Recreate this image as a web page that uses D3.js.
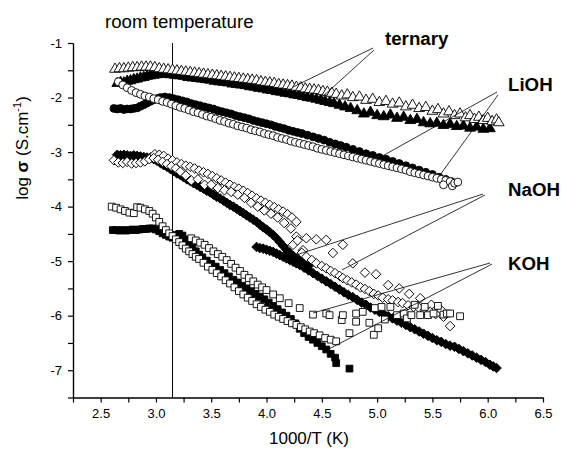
<!DOCTYPE html>
<html>
<head>
<meta charset="utf-8">
<script src="https://cdn.jsdelivr.net/npm/d3@7"></script>
<style>
  body { margin: 0; background: #fff; }
  svg { font-family: 'Liberation Sans', Arial, sans-serif; }
</style>
</head>
<body>
<div id="chart"></div>
<script>
// x = 1000/T (K), y = log sigma
const ternaryFilled = [
  [2.65, -1.74], [2.68, -1.72], [2.71, -1.73], [2.74, -1.7], [2.77, -1.69], [2.8, -1.67], [2.83, -1.66],
  [2.86, -1.64], [2.89, -1.63], [2.92, -1.61], [2.95, -1.6], [2.98, -1.59], [3.01, -1.58], [3.05, -1.57],
  [3.09, -1.57], [3.13, -1.58], [3.17, -1.59], [3.21, -1.6], [3.25, -1.61], [3.29, -1.63], [3.33, -1.64],
  [3.37, -1.65], [3.41, -1.66], [3.45, -1.67], [3.49, -1.68], [3.53, -1.7], [3.57, -1.71], [3.61, -1.72],
  [3.65, -1.73], [3.69, -1.75], [3.73, -1.76], [3.77, -1.77], [3.81, -1.78], [3.85, -1.8], [3.89, -1.81],
  [3.93, -1.83], [3.97, -1.84], [4.01, -1.86], [4.05, -1.87], [4.09, -1.89], [4.13, -1.9], [4.17, -1.92],
  [4.21, -1.93], [4.25, -1.95], [4.29, -1.96], [4.33, -1.98], [4.37, -2.0], [4.41, -2.01], [4.45, -2.03],
  [4.49, -2.05], [4.53, -2.07], [4.57, -2.09], [4.61, -2.11], [4.66, -2.14], [4.71, -2.17], [4.76, -2.2],
  [4.82, -2.24], [4.88, -2.3], [4.94, -2.27], [5.0, -2.33], [5.06, -2.35], [5.12, -2.32], [5.18, -2.38],
  [5.24, -2.36], [5.3, -2.42], [5.36, -2.4], [5.42, -2.46], [5.48, -2.48], [5.54, -2.47], [5.6, -2.51],
  [5.66, -2.49], [5.72, -2.53], [5.78, -2.52], [5.84, -2.56], [5.9, -2.54], [5.96, -2.58], [6.02, -2.57],
];
const ternaryOpen = [
  [2.63, -1.48], [2.67, -1.47], [2.71, -1.47], [2.75, -1.46], [2.79, -1.45], [2.83, -1.45], [2.87, -1.44],
  [2.91, -1.44], [2.95, -1.44], [2.99, -1.45], [3.03, -1.47], [3.07, -1.48], [3.11, -1.49], [3.15, -1.5],
  [3.19, -1.51], [3.23, -1.52], [3.27, -1.53], [3.31, -1.54], [3.35, -1.55], [3.39, -1.56], [3.43, -1.57],
  [3.47, -1.58], [3.51, -1.59], [3.55, -1.6], [3.59, -1.61], [3.63, -1.62], [3.67, -1.63], [3.71, -1.64],
  [3.75, -1.65], [3.79, -1.66], [3.83, -1.67], [3.87, -1.68], [3.91, -1.69], [3.95, -1.71], [3.99, -1.72],
  [4.03, -1.73], [4.07, -1.74], [4.11, -1.76], [4.15, -1.77], [4.19, -1.78], [4.23, -1.79], [4.27, -1.81],
  [4.31, -1.82], [4.35, -1.84], [4.39, -1.85], [4.43, -1.86], [4.47, -1.87], [4.51, -1.89], [4.55, -1.9],
  [4.59, -1.92], [4.63, -1.94], [4.68, -1.97], [4.73, -1.95], [4.78, -2.0], [4.84, -1.99], [4.9, -2.05],
  [4.96, -2.03], [5.02, -2.09], [5.08, -2.07], [5.14, -2.12], [5.2, -2.1], [5.26, -2.17], [5.32, -2.14],
  [5.38, -2.2], [5.44, -2.18], [5.5, -2.25], [5.55, -2.22], [5.6, -2.3], [5.65, -2.26], [5.7, -2.33],
  [5.75, -2.3], [5.8, -2.37], [5.84, -2.33], [5.88, -2.4], [5.92, -2.36], [5.96, -2.42], [6.0, -2.38],
  [6.04, -2.44], [6.08, -2.41], [6.1, -2.46],
];
const liohFilled = [
  [2.62, -2.2], [2.65, -2.21], [2.68, -2.2], [2.71, -2.22], [2.74, -2.21], [2.77, -2.21], [2.8, -2.2],
  [2.83, -2.19], [2.86, -2.16], [2.89, -2.13], [2.92, -2.1], [2.95, -2.07], [2.98, -2.04], [3.01, -2.02],
  [3.04, -2.0], [3.08, -1.99], [3.12, -2.0], [3.16, -2.02], [3.2, -2.04], [3.24, -2.06], [3.28, -2.08],
  [3.32, -2.11], [3.36, -2.13], [3.4, -2.15], [3.44, -2.17], [3.48, -2.19], [3.52, -2.21], [3.56, -2.24],
  [3.6, -2.26], [3.64, -2.28], [3.68, -2.3], [3.72, -2.33], [3.76, -2.35], [3.8, -2.37], [3.84, -2.39],
  [3.88, -2.42], [3.92, -2.44], [3.96, -2.46], [4.0, -2.48], [4.04, -2.5], [4.08, -2.53], [4.12, -2.55],
  [4.16, -2.57], [4.2, -2.6], [4.24, -2.62], [4.28, -2.64], [4.32, -2.66], [4.37, -2.69], [4.42, -2.72],
  [4.47, -2.75], [4.52, -2.78], [4.57, -2.82], [4.62, -2.85], [4.67, -2.88], [4.72, -2.91], [4.78, -2.95],
  [4.84, -2.99], [4.9, -3.03], [4.96, -3.06], [5.02, -3.1], [5.08, -3.13], [5.14, -3.17], [5.2, -3.21],
  [5.26, -3.25], [5.32, -3.29], [5.38, -3.33], [5.44, -3.37], [5.5, -3.41], [5.56, -3.46], [5.62, -3.5],
  [5.67, -3.54],
];
const liohOpen = [
  [2.66, -1.71], [2.7, -1.77], [2.74, -1.82], [2.78, -1.87], [2.82, -1.91], [2.86, -1.94], [2.9, -1.97],
  [2.94, -1.99], [2.98, -2.02], [3.02, -2.04], [3.06, -2.07], [3.1, -2.09], [3.14, -2.12], [3.18, -2.15],
  [3.22, -2.18], [3.26, -2.2], [3.3, -2.23], [3.34, -2.26], [3.38, -2.28], [3.42, -2.31], [3.46, -2.34],
  [3.5, -2.36], [3.54, -2.39], [3.58, -2.42], [3.62, -2.44], [3.66, -2.47], [3.7, -2.49], [3.74, -2.52],
  [3.78, -2.54], [3.82, -2.56], [3.86, -2.59], [3.9, -2.61], [3.94, -2.63], [3.98, -2.66], [4.02, -2.68],
  [4.06, -2.7], [4.1, -2.73], [4.14, -2.75], [4.18, -2.77], [4.22, -2.8], [4.26, -2.82], [4.3, -2.84],
  [4.34, -2.86], [4.38, -2.88], [4.42, -2.9], [4.46, -2.93], [4.5, -2.95], [4.54, -2.97], [4.58, -2.99],
  [4.62, -3.01], [4.66, -3.03], [4.7, -3.05], [4.74, -3.07], [4.78, -3.09], [4.82, -3.11], [4.86, -3.13],
  [4.9, -3.15], [4.94, -3.17], [4.98, -3.19], [5.02, -3.21], [5.06, -3.23], [5.1, -3.25], [5.14, -3.27],
  [5.18, -3.29], [5.22, -3.31], [5.26, -3.33], [5.3, -3.36], [5.34, -3.38], [5.38, -3.4], [5.42, -3.42],
  [5.46, -3.44], [5.5, -3.46], [5.54, -3.48], [5.58, -3.5], [5.62, -3.52], [5.6, -3.6], [5.66, -3.54],
  [5.68, -3.62], [5.7, -3.57], [5.73, -3.55],
];
const naohFilledA = [
  [2.65, -3.05], [2.68, -3.06], [2.71, -3.05], [2.74, -3.06], [2.77, -3.07], [2.8, -3.06], [2.83, -3.07],
  [2.86, -3.08], [2.89, -3.09], [2.92, -3.1], [2.95, -3.11], [2.98, -3.13], [3.01, -3.16], [3.04, -3.2],
  [3.07, -3.24], [3.1, -3.27], [3.13, -3.31], [3.16, -3.35], [3.19, -3.39], [3.22, -3.42], [3.25, -3.46],
  [3.28, -3.5], [3.31, -3.53], [3.34, -3.57], [3.37, -3.6], [3.4, -3.64], [3.43, -3.67], [3.46, -3.71],
  [3.49, -3.74], [3.52, -3.78], [3.55, -3.82], [3.58, -3.85], [3.61, -3.89], [3.64, -3.93], [3.67, -3.97],
  [3.7, -4.0], [3.73, -4.04], [3.76, -4.08], [3.79, -4.12], [3.82, -4.16], [3.85, -4.2], [3.88, -4.24],
  [3.91, -4.28], [3.94, -4.33], [3.97, -4.38], [4.0, -4.42], [4.03, -4.47], [4.06, -4.52], [4.09, -4.58],
  [4.12, -4.65], [4.15, -4.72], [4.18, -4.79], [4.21, -4.85], [4.24, -4.9], [4.27, -4.95], [4.3, -4.99],
  [4.34, -5.04], [4.38, -5.09],
];
const naohFilledB = [
  [3.91, -4.74], [3.94, -4.76], [3.97, -4.77], [4.0, -4.79], [4.03, -4.81], [4.06, -4.83], [4.09, -4.86],
  [4.12, -4.89], [4.15, -4.92], [4.18, -4.95], [4.21, -4.98], [4.24, -5.01], [4.27, -5.04], [4.3, -5.07],
  [4.34, -5.12], [4.38, -5.17], [4.42, -5.22], [4.46, -5.27], [4.5, -5.32], [4.54, -5.37], [4.58, -5.42],
  [4.62, -5.47], [4.66, -5.52], [4.7, -5.57], [4.74, -5.62], [4.78, -5.66], [4.82, -5.71], [4.86, -5.76],
  [4.9, -5.8], [4.94, -5.85], [4.98, -5.89], [5.02, -5.93], [5.06, -5.97], [5.1, -6.01], [5.14, -6.05],
  [5.18, -6.09], [5.22, -6.13], [5.26, -6.17], [5.3, -6.21], [5.34, -6.25], [5.38, -6.29], [5.42, -6.33],
  [5.46, -6.37], [5.5, -6.41], [5.54, -6.45], [5.58, -6.48], [5.62, -6.52], [5.66, -6.55], [5.7, -6.57],
  [5.74, -6.61], [5.78, -6.65], [5.82, -6.69], [5.86, -6.73], [5.9, -6.77], [5.94, -6.81], [5.98, -6.85],
  [6.02, -6.9], [6.05, -6.93], [6.08, -6.96],
];
const naohOpenA = [
  [2.95, -3.1], [2.99, -3.04], [3.03, -3.05], [3.07, -3.07], [3.11, -3.12], [3.15, -3.15], [3.19, -3.19],
  [3.23, -3.22], [3.27, -3.25], [3.31, -3.27], [3.35, -3.3], [3.39, -3.34], [3.43, -3.37], [3.47, -3.4],
  [3.51, -3.44], [3.55, -3.48], [3.59, -3.52], [3.63, -3.56], [3.67, -3.6], [3.71, -3.64], [3.75, -3.67],
  [3.79, -3.71], [3.83, -3.75], [3.87, -3.8], [3.91, -3.85], [3.95, -3.89], [3.99, -3.93], [4.03, -3.97],
  [4.07, -4.01], [4.11, -4.05], [4.15, -4.09], [4.19, -4.14], [4.23, -4.2], [4.27, -4.28], [4.27, -4.55],
  [4.24, -4.7], [4.33, -4.8], [4.36, -4.58], [4.45, -4.6], [4.54, -4.61], [4.6, -4.85], [4.69, -4.7],
  [4.78, -5.04], [4.89, -5.21], [4.99, -5.24], [5.1, -5.44], [5.2, -5.5], [5.29, -5.6], [5.39, -5.68],
  [5.49, -5.8], [5.58, -5.9], [5.66, -6.19],
];
const naohOpenB = [
  [2.62, -3.15], [2.66, -3.19], [2.7, -3.2], [2.74, -3.18], [2.78, -3.21], [2.82, -3.2], [2.86, -3.19],
  [2.9, -3.17], [2.94, -3.13], [2.98, -3.11], [3.02, -3.14], [3.06, -3.18], [3.1, -3.22], [3.14, -3.26],
  [3.18, -3.3], [3.22, -3.36], [3.27, -3.43], [3.32, -3.52], [3.38, -3.5], [3.44, -3.6], [3.5, -3.6],
  [3.56, -3.66], [3.62, -3.7], [3.68, -3.73], [3.74, -3.78], [3.8, -3.84], [3.86, -3.93], [3.92, -4.0],
  [3.98, -4.07], [4.04, -4.13], [4.1, -4.2], [4.16, -4.3], [4.22, -4.4], [4.28, -4.62], [4.32, -4.85],
  [4.36, -4.92], [4.41, -4.98], [4.45, -5.04], [4.5, -5.09], [4.54, -5.13], [4.58, -5.18], [4.62, -5.22],
  [4.66, -5.27], [4.69, -5.31], [4.73, -5.35], [4.77, -5.39], [4.81, -5.43], [4.85, -5.48], [4.89, -5.51],
  [4.93, -5.55], [4.97, -5.6], [5.01, -5.63], [5.05, -5.67], [5.1, -5.7], [5.14, -5.72], [5.19, -5.75],
  [5.23, -5.77], [5.28, -5.81], [5.33, -5.84], [5.38, -5.86], [5.43, -5.9], [5.48, -5.93], [5.53, -5.97],
  [5.6, -6.02],
];
const kohFilled = [
  [2.61, -4.43], [2.64, -4.43], [2.67, -4.44], [2.7, -4.43], [2.73, -4.44], [2.76, -4.43], [2.79, -4.42],
  [2.82, -4.43], [2.85, -4.42], [2.88, -4.41], [2.91, -4.41], [2.94, -4.4], [2.97, -4.4], [3.0, -4.42],
  [3.03, -4.45], [3.06, -4.49], [3.09, -4.52], [3.12, -4.55], [3.15, -4.57], [3.18, -4.52], [3.21, -4.5],
  [3.24, -4.53], [3.27, -4.6], [3.3, -4.68], [3.33, -4.75], [3.36, -4.82], [3.39, -4.88], [3.42, -4.93],
  [3.46, -4.99], [3.5, -5.05], [3.54, -5.1], [3.58, -5.16], [3.62, -5.22], [3.66, -5.28], [3.7, -5.34],
  [3.74, -5.39], [3.78, -5.45], [3.82, -5.5], [3.86, -5.55], [3.9, -5.6], [3.94, -5.65], [3.98, -5.7],
  [4.02, -5.76], [4.06, -5.82], [4.1, -5.88], [4.14, -5.94], [4.18, -6.0], [4.22, -6.06], [4.26, -6.14],
  [4.3, -6.24], [4.34, -6.32], [4.38, -6.39], [4.42, -6.44], [4.46, -6.5], [4.5, -6.56], [4.54, -6.62],
  [4.58, -6.7], [4.62, -6.77], [4.63, -6.87], [4.75, -6.97],
];
const kohOpenA = [
  [2.6, -4.0], [2.64, -4.02], [2.68, -4.05], [2.72, -4.08], [2.76, -4.11], [2.8, -4.12], [2.83, -4.01],
  [2.86, -4.02], [2.9, -4.05], [2.94, -4.08], [2.97, -4.13], [3.0, -4.2], [3.03, -4.28], [3.06, -4.36],
  [3.09, -4.43], [3.12, -4.49], [3.15, -4.54], [3.18, -4.6], [3.21, -4.65], [3.24, -4.71], [3.27, -4.77],
  [3.3, -4.82], [3.33, -4.87], [3.36, -4.92], [3.39, -4.96], [3.43, -5.03], [3.47, -5.1], [3.51, -5.16],
  [3.55, -5.22], [3.59, -5.28], [3.63, -5.35], [3.67, -5.41], [3.71, -5.48], [3.75, -5.55], [3.79, -5.61],
  [3.83, -5.67], [3.87, -5.73], [3.91, -5.79], [3.95, -5.84], [3.99, -5.89], [4.03, -5.93], [4.07, -5.98],
  [4.11, -6.02], [4.15, -6.06], [4.19, -6.1], [4.23, -6.14], [4.27, -6.17], [4.31, -6.21], [4.35, -6.25],
  [4.39, -6.29], [4.43, -6.32], [4.48, -6.36], [4.53, -6.41], [4.58, -6.44], [4.63, -6.47],
];
const kohOpenB = [
  [3.32, -4.58], [3.36, -4.62], [3.4, -4.66], [3.44, -4.7], [3.48, -4.76], [3.52, -4.82], [3.56, -4.87],
  [3.6, -4.92], [3.64, -4.98], [3.68, -5.05], [3.72, -5.12], [3.76, -5.18], [3.8, -5.25], [3.84, -5.31],
  [3.88, -5.37], [3.92, -5.43], [3.96, -5.48], [4.0, -5.53], [4.06, -5.61], [4.12, -5.68], [4.2, -5.77],
  [4.3, -5.86], [4.42, -5.98], [4.54, -5.96], [4.57, -5.99], [4.68, -6.08], [4.69, -5.99], [4.75, -6.32],
  [4.81, -5.96], [4.81, -6.11], [4.87, -5.93], [4.93, -6.13], [4.97, -6.35], [4.98, -5.86], [5.01, -6.23],
  [5.04, -5.84], [5.07, -6.07], [5.12, -5.84], [5.18, -5.99], [5.24, -5.96], [5.27, -6.05], [5.31, -5.99],
  [5.34, -5.8], [5.39, -5.99], [5.43, -5.84], [5.46, -5.99], [5.51, -5.96], [5.55, -5.82], [5.6, -5.98],
  [5.63, -5.96], [5.66, -5.96], [5.75, -6.01],
];

const xMajorTicks = [2.5, 3.0, 3.5, 4.0, 4.5, 5.0, 5.5, 6.0, 6.5];
const xMinorTicks = [2.25, 2.75, 3.25, 3.75, 4.25, 4.75, 5.25, 5.75, 6.25];
const yMajorTicks = [-7, -6, -5, -4, -3, -2, -1];
const yMinorTicks = [-7.5, -6.5, -5.5, -4.5, -3.5, -2.5, -1.5];

const roomTemperature = 3.15;

// callout leader lines, in data units: [from, to]
const callouts = [
  { label: 'ternary', lines: [[[4.963, -1.092], [4.239, -1.807]], [[4.972, -1.129], [4.483, -2.027]]] },
  { label: 'LiOH', lines: [[[6.084, -1.899], [4.999, -3.127]], [[6.093, -1.954], [5.569, -3.42]]] },
  { label: 'NaOH', lines: [[[5.957, -3.769], [4.185, -4.942]], [[5.975, -3.787], [4.682, -5.162]]] },
  { label: 'KOH', lines: [[[6.021, -5.034], [4.42, -5.951]], [[6.039, -5.053], [4.547, -6.629]]] },
];

const width = 563;
const height = 449;
const margin = { top: 43, right: 20, bottom: 51.5, left: 73 };

const svg = d3.select('#chart')
  .append('svg')
  .attr('width', width)
  .attr('height', height);

const x = d3.scaleLinear()
  .domain([2.25, 6.5])
  .range([margin.left, width - margin.right]);

const y = d3.scaleLinear()
  .domain([-7.5, -1])
  .range([height - margin.bottom, margin.top]);

// marker shapes
const shapes = {
  triangle: d3.symbol().type(d3.symbolTriangle).size(50)(),
  circle: d3.symbol().type(d3.symbolCircle).size(48)(),
  diamond: d3.symbol().type(d3.symbolSquare).size(46)(),
  square: d3.symbol().type(d3.symbolSquare).size(46)(),
};

const series = [
  { points: ternaryFilled, shape: 'triangle', filled: true },
  { points: ternaryOpen, shape: 'triangle', filled: false },
  { points: liohFilled, shape: 'circle', filled: true },
  { points: liohOpen, shape: 'circle', filled: false },
  { points: naohFilledA, shape: 'diamond', filled: true },
  { points: naohFilledB, shape: 'diamond', filled: true },
  { points: naohOpenA, shape: 'diamond', filled: false },
  { points: naohOpenB, shape: 'diamond', filled: false },
  { points: kohFilled, shape: 'square', filled: true },
  { points: kohOpenA, shape: 'square', filled: false },
  { points: kohOpenB, shape: 'square', filled: false },
];

// room temperature line
svg.append('line')
  .attr('x1', x(roomTemperature))
  .attr('x2', x(roomTemperature))
  .attr('y1', y(-1))
  .attr('y2', y(-7.5))
  .attr('stroke', '#000')
  .attr('stroke-width', 1);

svg.append('text')
  .attr('x', 105)
  .attr('y', 28)
  .style('font-size', '18.7px')
  .text('room temperature');

// markers
series.forEach((s) => {
  svg.append('g')
    .selectAll('path')
    .data(s.points)
    .join('path')
    .attr('d', shapes[s.shape])
    .attr('transform', (d) => `translate(${x(d[0])},${y(d[1])})${s.shape === 'diamond' ? ' rotate(45)' : ''}`)
    .attr('fill', s.filled ? '#000' : '#fff')
    .attr('stroke', '#000')
    .attr('stroke-width', 0.9);
});

// callouts
const labelPos = {
  ternary: [385, 45],
  LiOH: [508, 91],
  NaOH: [508, 196],
  KOH: [508, 270],
};

callouts.forEach((c) => {
  c.lines.forEach((l) => {
    svg.append('line')
      .attr('x1', x(l[0][0]))
      .attr('y1', y(l[0][1]))
      .attr('x2', x(l[1][0]))
      .attr('y2', y(l[1][1]))
      .attr('stroke', '#000')
      .attr('stroke-width', 0.8);
  });
  svg.append('text')
    .attr('x', labelPos[c.label][0])
    .attr('y', labelPos[c.label][1])
    .style('font-size', '18.7px')
    .style('font-weight', 'bold')
    .text(c.label);
});

// axes
const xAxis = d3.axisBottom(x)
  .tickValues(xMajorTicks)
  .tickSize(5)
  .tickSizeOuter(0)
  .tickPadding(6)
  .tickFormat(d3.format('.1f'));
const xAxisMinor = d3.axisBottom(x)
  .tickValues(xMinorTicks)
  .tickSize(5)
  .tickSizeOuter(0)
  .tickFormat('');
const yAxis = d3.axisLeft(y)
  .tickValues(yMajorTicks)
  .tickSize(5)
  .tickSizeOuter(0)
  .tickPadding(6)
  .tickFormat((d) => `${d}`);
const yAxisMinor = d3.axisLeft(y)
  .tickValues(yMinorTicks)
  .tickSize(5)
  .tickSizeOuter(0)
  .tickFormat('');

const gx = svg.append('g')
  .attr('transform', `translate(0 ${y(-7.5)})`)
  .call(xAxis);
svg.append('g')
  .attr('transform', `translate(0 ${y(-7.5)})`)
  .call(xAxisMinor);
const gy = svg.append('g')
  .attr('transform', `translate(${x(2.25)} 0)`)
  .call(yAxis);
svg.append('g')
  .attr('transform', `translate(${x(2.25)} 0)`)
  .call(yAxisMinor);

svg.selectAll('.domain, .tick line')
  .attr('stroke', '#000')
  .attr('stroke-width', 1.2);
gx.selectAll('text')
  .style('font-size', '13px')
  .style('font-family', "'Liberation Sans', Arial, sans-serif")
  .attr('fill', '#000');
gy.selectAll('text')
  .style('font-size', '13px')
  .style('font-family', "'Liberation Sans', Arial, sans-serif")
  .attr('fill', '#000');

// x axis title
svg.append('text')
  .attr('x', 309)
  .attr('y', 444)
  .attr('text-anchor', 'middle')
  .style('font-size', '17px')
  .text('1000/T (K)');

// y axis title
const yTitle = svg.append('text')
  .attr('transform', 'translate(28 148) rotate(-90)')
  .attr('text-anchor', 'middle')
  .style('font-size', '17px');
yTitle.append('tspan').text('log ');
yTitle.append('tspan').style('font-weight', 'bold').text('σ');
yTitle.append('tspan').text(' (S.cm');
yTitle.append('tspan').attr('dy', -7).style('font-size', '11px').text('-1');
yTitle.append('tspan').attr('dy', 7).text(')');
</script>
</body>
</html>
